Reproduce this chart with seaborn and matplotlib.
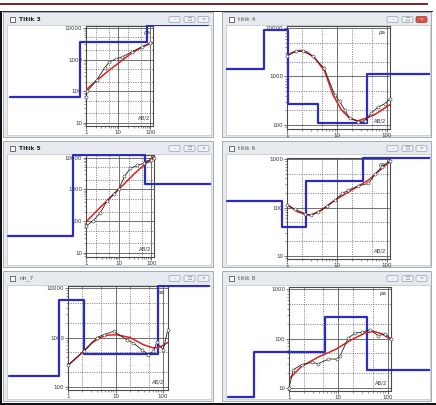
import matplotlib
matplotlib.use('Agg')
import matplotlib.pyplot as plt
import seaborn as sns
from matplotlib.patches import Rectangle, FancyBboxPatch
from matplotlib.transforms import Bbox, TransformedBbox
from matplotlib.ticker import LogLocator, NullFormatter

# ---------------- données ----------------
titles = ['Titik 3', 'titik 4', 'Titik 5', 'titik 6', 'nh_7', 'titik 8']

# courbes observées (AB/2, rho apparente)
obs_x_3 = [1, 1.1, 2.15, 3.8, 5.3, 8.7, 13, 26, 53, 100]
obs_y_3 = [66, 100, 230, 550, 850, 1050, 1200, 1750, 2500, 3350]
obs_x_4 = [1, 1.54, 2.09, 3.3, 5.5, 9.0, 11.3, 14.2, 17.9, 26.3, 35.7, 48.6, 66, 90, 113]
obs_y_4 = [2680, 3290, 3290, 2600, 1490, 417, 304, 204, 137, 117, 121, 174, 232, 272, 340]
obs_x_5 = [1, 1.69, 2.71, 4.35, 7.0, 10, 15, 22.9, 36.8, 59, 95, 118]
obs_y_5 = [70, 105, 182, 422, 715, 1000, 2550, 4640, 5620, 6660, 8450, 10000]
obs_x_6 = [1, 1.43, 2.27, 3.09, 4.2, 6.2, 9.1, 12.8, 16.9, 26.9, 42.7, 58, 79, 113]
obs_y_6 = [115, 92, 75, 69, 81, 107, 142, 195, 229, 281, 314, 482, 694, 910]
obs_x_7 = [1, 2.13, 4.06, 5.6, 9.1, 17.3, 23.8, 35.6, 49.2, 62.8, 73.6, 101, 125]
obs_y_7 = [274, 525, 1000, 1140, 1330, 904, 774, 568, 450, 525, 798, 568, 1396]
obs_x_8 = [1, 1.22, 1.8, 2.88, 3.93, 6.27, 9.25, 10.8, 15.9, 21.8, 29.6, 43.8, 64.5, 88, 115]
obs_y_8 = [10, 23.4, 29.6, 33, 31, 38.5, 38.5, 43.7, 102, 129, 133, 151, 114, 125, 100]

# courbes calculées (rouge)
calc_x_3 = [1, 1.6, 2.65, 4.5, 8.7, 15, 26, 50, 80, 118]
calc_y_3 = [110, 170, 260, 410, 680, 1050, 1600, 2350, 2950, 3400]
calc_x_4 = [1, 1.3, 1.8, 2.5, 3.6, 5.7, 8.3, 12.2, 17.9, 26, 38.6, 56.5, 83, 114]
calc_y_4 = [2680, 3150, 3440, 3200, 2400, 1270, 417, 204, 137, 121, 137, 162, 210, 260]
calc_x_5 = [1, 3, 10, 30, 120]
calc_y_5 = [95, 300, 1000, 3100, 11000]
calc_x_6 = [1, 1.66, 2.86, 4.9, 9.1, 19.7, 42.7, 79, 115]
calc_y_6 = [115, 81, 69, 88, 142, 229, 368, 641, 881]
calc_x_7 = [1, 2.13, 3.2, 4.76, 7, 10.6, 20.2, 38.6, 62.8, 86.7, 127]
calc_y_7 = [274, 525, 780, 1000, 1120, 1140, 1000, 716, 614, 643, 798]
calc_x_8 = [1, 1.8, 3.93, 8.58, 18.6, 34.7, 51.4, 75.6, 117]
calc_y_8 = [15.2, 27.4, 42.3, 59.4, 94.7, 129, 140, 125, 95]

# modèles (profondeurs des limites, résistivités des couches)
mod_d_3 = [0.0043, 0.66, 81, 6100]
mod_r_3 = [66.5, 3600, 12400]
mod_d_4 = [0.061, 0.35, 1.05, 4.17, 40, 770]
mod_r_4 = [1420, 9240, 272, 108, 1135]
mod_d_5 = [0.004, 0.39, 64, 7200]
mod_r_5 = [34, 12100, 1470]
mod_d_6 = [0.063, 0.806, 2.45, 32.9, 745]
mod_r_6 = [135, 39.8, 351, 1066]
mod_d_7 = [0.057, 0.637, 2.2, 79.8, 922]
mod_r_7 = [169, 5810, 464, 10800]
mod_d_8 = [0.057, 0.198, 5.37, 37.5, 780]
mod_r_8 = [6.6, 54, 272, 22.7]

# étiquettes des axes y
yticks_3 = [10, 100, 1000, 10000]
yticks_4 = [100, 1000, 10000]
yticks_5 = [10, 100, 1000, 10000]
yticks_6 = [10, 100, 1000]
yticks_7 = [100, 1000, 10000]
yticks_8 = [10, 100, 1000]
xticks = [1, 10, 100]

obs = [(obs_x_3, obs_y_3), (obs_x_4, obs_y_4), (obs_x_5, obs_y_5),
       (obs_x_6, obs_y_6), (obs_x_7, obs_y_7), (obs_x_8, obs_y_8)]
calc = [(calc_x_3, calc_y_3), (calc_x_4, calc_y_4), (calc_x_5, calc_y_5),
        (calc_x_6, calc_y_6), (calc_x_7, calc_y_7), (calc_x_8, calc_y_8)]
mods = [(mod_d_3, mod_r_3), (mod_d_4, mod_r_4), (mod_d_5, mod_r_5),
        (mod_d_6, mod_r_6), (mod_d_7, mod_r_7), (mod_d_8, mod_r_8)]
yticks_all = [yticks_3, yticks_4, yticks_5, yticks_6, yticks_7, yticks_8]

# ---------------- mise en page (pixels) ----------------
W, H = 436, 405
# fenêtres : x0, y0, x1, y1
windows = [(3, 12, 213, 137), (222, 12, 431, 137),
           (3, 141, 213, 267), (222, 141, 431, 267),
           (3, 271, 213, 401), (222, 271, 431, 401)]
# zones blanches des fenêtres
contents = [(7, 25, 211, 135), (226, 25, 430, 135),
            (7, 154, 211, 265), (226, 154, 430, 265),
            (7, 285, 211, 399), (226, 285, 430, 399)]
# axes : gauche, haut, largeur, hauteur
axes_px = [(86, 26, 67, 100), (287, 26, 103, 103),
           (86, 155, 68, 102), (287, 158, 103, 101),
           (68, 286, 100, 104), (289, 287, 102, 104)]
xlims = [(1, 120), (1, 115), (1, 120), (1, 115), (1, 127), (1, 117)]
ylims = [(8, 11500), (82, 11000), (7.5, 12000), (8.7, 1050), (87, 11000), (8.7, 1100)]

sns.set_style('white')
plt.rcParams['font.family'] = ['DejaVu Sans']

fig = plt.figure(figsize=(W / 100, H / 100), dpi=100)
bg = fig.add_axes([0, 0, 1, 1])
bg.set_xlim(0, W)
bg.set_ylim(H, 0)
bg.axis('off')

# bandeau du haut et bords noirs
bg.add_patch(Rectangle((0, 2.5), 428, 2.6, fc='#7a2e2e', ec='none'))
bg.add_patch(Rectangle((0, 10.5), 433, 1.2, fc='#2a2a2a', ec='none'))
bg.add_patch(Rectangle((0, 10.5), 2.2, H, fc='#111111', ec='none'))
bg.add_patch(Rectangle((0, 402.5), 436, 3, fc='#111111', ec='none'))


def px_rect(l, t, w, h):
    return [l / W, 1 - (t + h) / H, w / W, h / H]


for i in range(6):
    x0, y0, x1, y1 = windows[i]
    cx0, cy0, cx1, cy1 = contents[i]
    # cadre de fenêtre
    bg.add_patch(Rectangle((x0, y0), x1 - x0, y1 - y0, fc='#e7ebf0', ec='#a3acb6', lw=0.7))
    bg.add_patch(Rectangle((cx0, cy0), cx1 - cx0, cy1 - cy0, fc='white', ec='#bcc3cb', lw=0.5))
    # case à cocher + titre
    bg.add_patch(Rectangle((x0 + 7, y0 + 5), 5, 5, fc='white', ec='#555555', lw=0.6))
    bold = titles[i].startswith('Titik')
    bg.text(x0 + 16, y0 + 7.5, titles[i], fontsize=4.3, va='center', ha='left',
            color='#222222' if bold else '#555555', fontweight='bold' if bold else 'normal')
    # boutons
    for k, bx in enumerate([x1 - 44, x1 - 29, x1 - 15]):
        fc = '#eef1f5'
        ec = '#98a2ad'
        if i == 1 and k == 2:
            fc, ec = '#d9544a', '#a0352c'
        bg.add_patch(FancyBboxPatch((bx, y0 + 4.5), 11, 6, boxstyle='round,pad=0,rounding_size=1.5',
                                    fc=fc, ec=ec, lw=0.5))
        sym = ['–', '□', '×'][k]
        bg.text(bx + 5.5, y0 + 7.5, sym, fontsize=3.2, ha='center', va='center',
                color='white' if (i == 1 and k == 2) else '#666666')

    ax = fig.add_axes(px_rect(*axes_px[i]))
    ax.set_xscale('log')
    ax.set_yscale('log')
    ax.set_xlim(*xlims[i])
    ax.set_ylim(*ylims[i])
    ax.set_facecolor('white')

    # grille : décades en trait plein, 2 et 5 en pointillé
    ax.grid(which='major', color='#5a5a5a', lw=0.6, ls='-')
    for dec in [1, 10]:
        for m in [2, 5]:
            ax.axvline(m * dec, color='#6a6a6a', lw=0.6, ls=(0, (1.2, 1.6)), zorder=0.5)
    for dec in [1, 10, 100, 1000]:
        for m in [2, 5]:
            v = m * dec
            if ylims[i][0] < v < ylims[i][1]:
                ax.axhline(v, color='#6a6a6a', lw=0.6, ls=(0, (1.2, 1.6)), zorder=0.5)

    ax.set_xticks(xticks)
    ax.set_xticklabels([str(t) for t in xticks])
    ax.set_yticks(yticks_all[i])
    ax.set_yticklabels([str(t) for t in yticks_all[i]])
    ax.xaxis.set_minor_locator(LogLocator(base=10, subs=range(2, 10)))
    ax.yaxis.set_minor_locator(LogLocator(base=10, subs=range(2, 10)))
    ax.xaxis.set_minor_formatter(NullFormatter())
    ax.yaxis.set_minor_formatter(NullFormatter())
    ax.tick_params(which='major', direction='out', length=2, width=0.5, labelsize=4, pad=0.8,
                   colors='#333333', left=True, bottom=True)
    ax.tick_params(which='minor', direction='out', length=1.2, width=0.4, left=True, bottom=True,
                   colors='#444444')
    for s in ax.spines.values():
        s.set_color('#4a4a4a')
        s.set_linewidth(0.8)

    # modèle (bleu), déborde des axes jusqu'au bord de la fenêtre
    d, r = mods[i]
    sns.lineplot(x=d, y=r + [r[-1]], ax=ax, color='#2b2bc8', lw=1.6, drawstyle='steps-post',
                 sort=False, estimator=None)
    line = ax.lines[-1]
    clip = Bbox.from_extents(cx0 / W, 1 - cy1 / H, cx1 / W, 1 - cy0 / H)
    line.set_clip_box(TransformedBbox(clip, fig.transFigure))
    line.set_zorder(3)

    # courbe calculée (rouge)
    cx, cy = calc[i]
    sns.lineplot(x=cx, y=cy, ax=ax, color='#e0201c', lw=1.1, sort=False, estimator=None)
    ax.lines[-1].set_zorder(4)

    # courbe observée (noir, cercles)
    ox, oy = obs[i]
    sns.lineplot(x=ox, y=oy, ax=ax, color='#222222', lw=0.6, marker='o', markersize=2.2,
                 markerfacecolor='white', markeredgecolor='#333333', markeredgewidth=0.4,
                 sort=False, estimator=None)
    ax.lines[-1].set_zorder(5)
    ax.lines[-1].set_clip_on(False)

    ax.text(0.96, 0.96, 'ρa', transform=ax.transAxes, ha='right', va='top', fontsize=4,
            color='#333333', zorder=6)
    ax.text(0.96, 0.05, 'AB/2', transform=ax.transAxes, ha='right', va='bottom', fontsize=3.8,
            color='#333333', zorder=6)
    ax.set_xlabel('')
    ax.set_ylabel('')

fig.savefig('out.png', dpi=100)
